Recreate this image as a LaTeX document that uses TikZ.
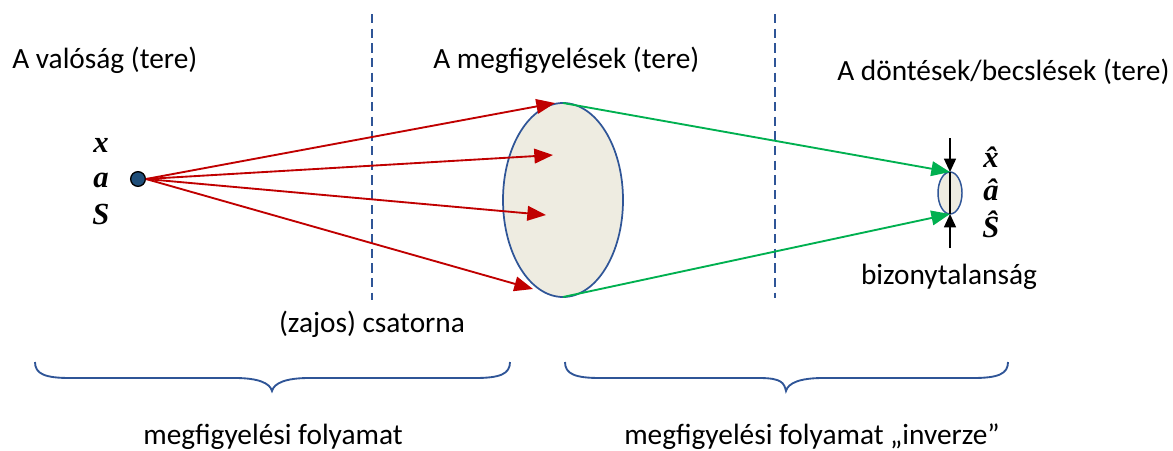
\documentclass[tikz,border=0pt]{standalone}
\usepackage{fontspec}
\setmainfont{Carlito}
\newfontfamily\varfont{Liberation Serif}
\usetikzlibrary{arrows.meta,shapes.geometric}
\definecolor{dblue}{HTML}{2F5597}
\definecolor{ptblue}{HTML}{1F4E79}
\definecolor{ared}{HTML}{C00000}
\definecolor{agreen}{HTML}{00B050}
\definecolor{efill}{HTML}{EEECE1}
\tikzset{
  lbl/.style={font=\fontsize{22}{24}\selectfont, inner sep=0pt},
  var/.style={font=\fontsize{23}{25}\selectfont\varfont\bfseries\itshape, inner sep=0pt},
  divider/.style={dblue, line width=1.1pt, dash pattern=on 7pt off 4pt},
  redarrow/.style={ared, line width=1.4pt, -{Triangle[length=14pt,width=11pt]}},
  greenarrow/.style={agreen, line width=1.4pt, -{Triangle[length=14pt,width=11pt]}},
  bracestyle/.style={dblue, line width=1.4pt},
  tickarrow/.style={black, line width=1.1pt, -{Triangle[length=10pt,width=9pt]}}
}
\begin{document}
\begin{tikzpicture}[x=0.75pt,y=-0.75pt]
\useasboundingbox (0,0) rectangle (1173,450);

% dividers
\coordinate (d1t) at (372,14); \coordinate (d1b) at (372,300);
\coordinate (d2t) at (775,14); \coordinate (d2b) at (775,298);
\draw[divider] (d1t) -- (d1b);
\draw[divider] (d2t) -- (d2b);

% titles
\node[lbl, anchor=west] (t1) at (12,60) {A valóság (tere)};
\node[lbl, anchor=west] (t2) at (433,60) {A megfigyelések (tere)};
\node[lbl, anchor=west] (t3) at (837,72) {A döntések/becslések (tere)};

% source point
\node[circle, fill=ptblue, draw=black, line width=1pt, minimum size=11pt, inner sep=0pt] (p) at (138,179) {};
\node[var] (vx) at (101,145) {x};
\node[var] (va) at (101,180) {a};
\node[var] (vs) at (101,214) {S};

% big ellipse
\node[ellipse, draw=dblue, fill=efill, line width=1.3pt, minimum width=90pt, minimum height=145.5pt, inner sep=0pt] (E) at (563,200) {};
\coordinate (Etop) at (563,103);
\coordinate (Ebot) at (563,297);
\coordinate (r1) at (555,103);
\coordinate (r2) at (553,155);
\coordinate (r3) at (546,215);
\coordinate (r4) at (533,289);

% red arrows
\draw[redarrow] (p.east) -- (r1);
\draw[redarrow] (p.east) -- (r2);
\draw[redarrow] (p.east) -- (r3);
\draw[redarrow] (p.east) -- (r4);

% small ellipse
\node[ellipse, draw=dblue, fill=efill, line width=1.1pt, minimum width=18pt, minimum height=31.5pt, inner sep=0pt] (e) at (950,193) {};
\coordinate (etop) at (950,172);
\coordinate (ebot) at (950,214);
\coordinate (ltop) at (950,138);
\coordinate (lbot) at (950,248);
\draw[line width=1.1pt] (etop) -- (ebot);
\draw[tickarrow] (ltop) -- (etop);
\draw[tickarrow] (lbot) -- (ebot);

% green arrows
\draw[greenarrow] (Etop) -- (etop);
\draw[greenarrow] (Ebot) -- (ebot);

\node[var] (hx) at (991,157) {\^{x}};
\node[var] (ha) at (991,190) {\^{a}};
\node[var] (hs) at (991,224) {\^{S}};

\node[lbl] (unc) at (949,277) {bizonytalanság};
\node[lbl] (ch) at (372,324) {(zajos) csatorna};

% braces
\draw[bracestyle] (35,362) .. controls (35,374) and (45,378) .. (70,378) -- (235,378)
  .. controls (258,378) and (270,383) .. (272,391)
  .. controls (274,383) and (286,378) .. (309,378) -- (475,378)
  .. controls (500,378) and (510,374) .. (510,362);
\draw[bracestyle] (565,362) .. controls (565,374) and (575,378) .. (600,378) -- (759,378)
  .. controls (782,378) and (784,383) .. (786,391)
  .. controls (788,383) and (800,378) .. (823,378) -- (973,378)
  .. controls (998,378) and (1008,374) .. (1008,362);

\node[lbl] (b1) at (273,437) {megfigyelési folyamat};
\node[lbl] (b2) at (812,437) {megfigyelési folyamat „inverze”};
\end{tikzpicture}
\end{document}
